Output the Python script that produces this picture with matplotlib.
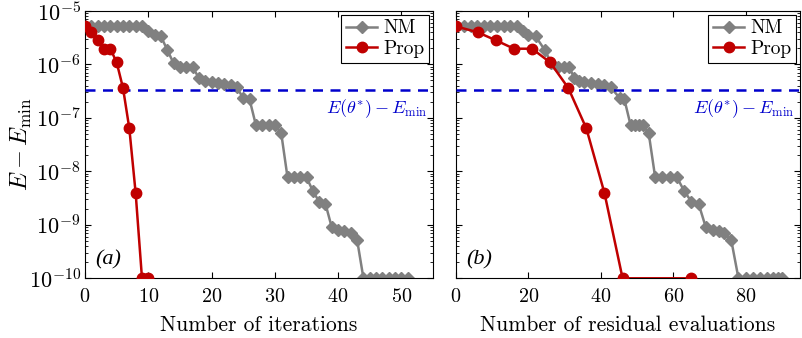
import numpy as np
import matplotlib
matplotlib.use("Agg")
import matplotlib.pyplot as plt
from matplotlib.ticker import LogLocator, NullFormatter

plt.rcParams['font.family'] = ['cmr10', 'DejaVu Serif']
plt.rcParams['mathtext.fontset'] = 'cm'
plt.rcParams['axes.formatter.use_mathtext'] = True

# NM values (one per iteration, 0..51)
nm_err = [5.2e-6, 5.2e-6, 5.2e-6, 5.2e-6, 5.2e-6, 5.2e-6, 5.2e-6, 5.2e-6, 5.2e-6, 5.1e-6,
          4.1e-6, 3.5e-6, 3.3e-6, 1.85e-6, 1.04e-6, 8.9e-7, 8.9e-7, 8.9e-7, 5.5e-7, 4.9e-7,
          4.6e-7, 4.5e-7, 4.3e-7, 4.1e-7, 3.7e-7, 2.3e-7, 2.2e-7, 7.3e-8, 7.3e-8, 7.3e-8,
          7.3e-8, 5.2e-8, 7.7e-9, 7.7e-9, 7.7e-9, 7.7e-9, 4.3e-9, 2.7e-9, 2.45e-9, 8.9e-10,
          8.0e-10, 7.7e-10, 6.9e-10, 5.2e-10, 1e-10, 1e-10, 1e-10, 1e-10, 1e-10, 1e-10,
          1e-10, 1e-10]
nm_iter = list(range(len(nm_err)))
nm_evals = [0, 2.2, 4.0, 5.8, 7.7, 9.5, 11.3, 13.2, 15.0, 16.8,
            18.6, 20.0, 22.0, 24.5, 26.3, 28.1, 29.9, 31.2, 32.7, 34.0,
            35.4, 37.3, 39.1, 40.9, 42.7, 45.3, 46.5, 48.2, 49.5, 50.5,
            51.5, 53.2, 55, 57, 59, 61, 63, 65, 67, 69,
            71, 72.5, 74, 76, 78, 80, 82, 84, 86, 87.5,
            89, 90]

# Proposed method
prop_err = [5.1e-6, 3.95e-6, 2.8e-6, 1.95e-6, 1.95e-6, 1.08e-6, 3.6e-7, 6.3e-8, 3.9e-9, 1e-10, 1e-10]
prop_iter = list(range(len(prop_err)))
prop_evals = [0, 6, 11, 16, 21, 26, 31, 36, 41, 46, 65]

e_star = 3.3e-7

gray = '#808080'
red = '#C00000'
blue = '#0000CC'

fig = plt.figure(figsize=(8.03, 3.38), dpi=100)
ax1 = fig.add_axes([0.1059, 0.1766, 0.4334, 0.7917])
ax2 = fig.add_axes([0.5679, 0.1766, 0.4284, 0.7917])

panels = [(ax1, nm_iter, prop_iter, 55, 'Number of iterations', '(a)'),
          (ax2, nm_evals, prop_evals, 95, 'Number of residual evaluations', '(b)')]

for ax, xn, xp, xmax, xlabel, tag in panels:
    ax.semilogy(xn, nm_err, '-', color=gray, lw=1.8, marker='D', ms=6,
                mfc=gray, mec=gray, label='NM', zorder=2)
    ax.axhline(e_star, color=blue, ls=(0, (4, 3)), lw=1.8, zorder=3)
    ax.semilogy(xp, prop_err, '-', color=red, lw=1.8, marker='o', ms=7.5,
                mfc=red, mec=red, label='Prop', zorder=4)
    ax.set_xlim(0, xmax)
    ax.set_ylim(1e-10, 1e-5)
    ax.set_xlabel(xlabel, fontsize=15.5, labelpad=7)
    ax.yaxis.set_major_locator(LogLocator(base=10, numticks=10))
    ax.yaxis.set_minor_locator(LogLocator(base=10, subs=np.arange(2, 10), numticks=20))
    ax.yaxis.set_minor_formatter(NullFormatter())
    ax.tick_params(which='both', direction='in', top=True, right=True)
    ax.tick_params(axis='x', labelsize=14.5, pad=7)
    ax.tick_params(axis='y', labelsize=16, pad=3)
    ax.tick_params(which='major', length=4, width=0.8)
    ax.tick_params(which='minor', length=2, width=0.6)
    ax.xaxis.get_offset_text().set_visible(False)
    ax.yaxis.get_offset_text().set_visible(False)
    for s in ax.spines.values():
        s.set_linewidth(0.8)
    ax.text(0.03, 0.07, tag, transform=ax.transAxes, fontsize=16,
            fontstyle='italic', family=['Liberation Serif'], ha='left', va='center')
    ax.text(0.985, 1.5e-7, r'$E(\theta^{*})-E_{\mathrm{min}}$', color=blue,
            fontsize=13, ha='right', va='center', transform=ax.get_yaxis_transform())
    leg = ax.legend(loc='upper right', fontsize=14, fancybox=False, framealpha=1,
                    edgecolor='black', handlelength=1.6, borderpad=0.25,
                    labelspacing=0.15, handletextpad=0.3, borderaxespad=0.2)
    leg.get_frame().set_linewidth(0.8)

ax1.set_xticks([0, 10, 20, 30, 40, 50])
ax2.set_xticks([0, 20, 40, 60, 80])
ax1.set_ylabel(r'$E - E_{\mathrm{min}}$', fontsize=17.5, va='center')
ax1.yaxis.set_label_coords(-0.182, 0.5)
ax2.tick_params(labelleft=False)

fig.savefig('out.png', dpi=100)
